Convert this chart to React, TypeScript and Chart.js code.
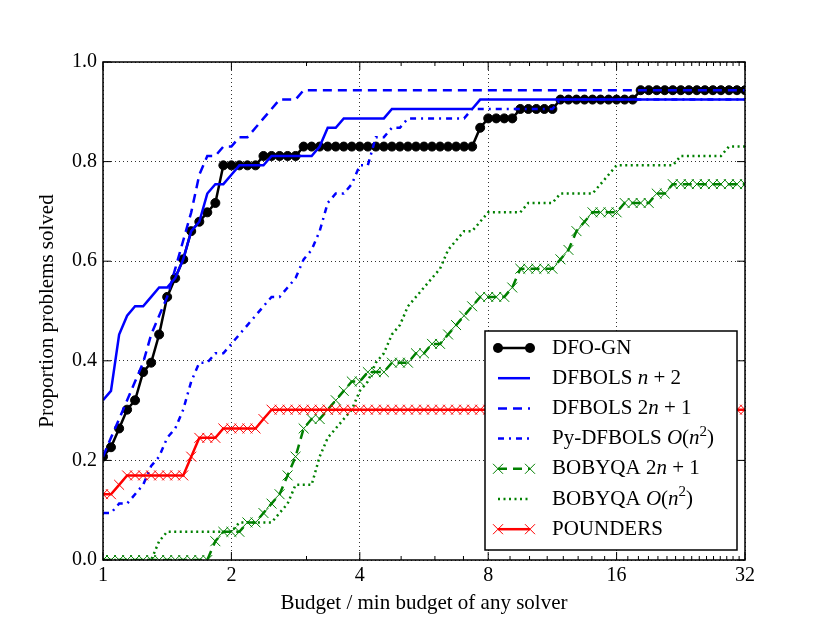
import React, { useEffect, useRef } from 'react';
import { Chart, registerables } from 'chart.js';

Chart.register(...registerables);

const problemCount = 53;

// budget / min budget of any solver
const budgets = [
  1.000, 1.044, 1.091, 1.139, 1.189, 1.242, 1.297, 1.354, 1.414, 1.477,
  1.542, 1.610, 1.682, 1.756, 1.834, 1.915, 2.000, 2.088, 2.181, 2.278,
  2.378, 2.484, 2.594, 2.709, 2.828, 2.954, 3.084, 3.221, 3.364, 3.513,
  3.668, 3.831, 4.000, 4.177, 4.362, 4.555, 4.757, 4.967, 5.187, 5.417,
  5.657, 5.907, 6.169, 6.442, 6.727, 7.025, 7.336, 7.661, 8.000, 8.354,
  8.724, 9.110, 9.514, 9.935, 10.375, 10.834, 11.314, 11.815, 12.338, 12.884,
  13.454, 14.050, 14.672, 15.322, 16.000, 16.709, 17.448, 18.221, 19.027, 19.870,
  20.749, 21.668, 22.627, 23.629, 24.675, 25.768, 26.909, 28.100, 29.344, 30.643,
  32.000,
];

// problems solved (out of 53) at each budget
const dfoGn = [
  11, 12, 14, 16, 17, 20, 21, 24, 28, 30,
  32, 35, 36, 37, 38, 42, 42, 42, 42, 42,
  43, 43, 43, 43, 43, 44, 44, 44, 44, 44,
  44, 44, 44, 44, 44, 44, 44, 44, 44, 44,
  44, 44, 44, 44, 44, 44, 44, 46, 47, 47,
  47, 47, 48, 48, 48, 48, 48, 49, 49, 49,
  49, 49, 49, 49, 49, 49, 49, 50, 50, 50,
  50, 50, 50, 50, 50, 50, 50, 50, 50, 50,
  50,
];

const dfbolsN2 = [
  17, 18, 24, 26, 27, 27, 28, 29, 29, 30,
  32, 35, 36, 39, 40, 40, 41, 42, 42, 42,
  42, 43, 43, 43, 43, 43, 43, 44, 46, 46,
  47, 47, 47, 47, 47, 47, 48, 48, 48, 48,
  48, 48, 48, 48, 48, 48, 48, 49, 49, 49,
  49, 49, 49, 49, 49, 49, 49, 49, 49, 49,
  49, 49, 49, 49, 49, 49, 49, 49, 49, 49,
  49, 49, 49, 49, 49, 49, 49, 49, 49, 49,
  49,
];

const dfbols2n1 = [
  11, 13, 15, 17, 19, 21, 24, 26, 28, 31,
  34, 37, 41, 43, 43, 44, 44, 45, 45, 46,
  47, 48, 49, 49, 49, 50, 50, 50, 50, 50,
  50, 50, 50, 50, 50, 50, 50, 50, 50, 50,
  50, 50, 50, 50, 50, 50, 50, 50, 50, 50,
  50, 50, 50, 50, 50, 50, 50, 50, 50, 50,
  50, 50, 50, 50, 50, 50, 50, 50, 50, 50,
  50, 50, 50, 50, 50, 50, 50, 50, 50, 50,
  50,
];

const pyDfbols = [
  5, 5, 6, 6, 7, 8, 10, 11, 13, 14,
  16, 19, 21, 21, 22, 22, 23, 24, 25, 26,
  27, 28, 28, 29, 30, 32, 33, 35, 38, 39,
  39, 40, 42, 42, 45, 45, 46, 46, 47, 47,
  47, 47, 47, 47, 47, 47, 48, 48, 48, 48,
  48, 48, 48, 48, 48, 48, 48, 49, 49, 49,
  49, 49, 49, 49, 49, 49, 49, 49, 49, 49,
  49, 49, 49, 49, 49, 49, 49, 49, 49, 49,
  49,
];

const bobyqa2n1 = [
  0, 0, 0, 0, 0, 0, 0, 0, 0, 0,
  0, 0, 0, 0, 2, 3, 3, 3, 4, 4,
  5, 6, 7, 9, 11, 14, 15, 15, 16, 17,
  18, 19, 19, 20, 20, 20, 21, 21, 21, 22,
  22, 23, 23, 24, 25, 26, 27, 28, 28, 28,
  28, 29, 31, 31, 31, 31, 31, 32, 33, 35,
  36, 37, 37, 37, 37, 38, 38, 38, 38, 39,
  39, 40, 40, 40, 40, 40, 40, 40, 40, 40,
  40,
];

const bobyqaOn2 = [
  0, 0, 0, 0, 0, 0, 0, 2, 3, 3,
  3, 3, 3, 3, 3, 3, 3, 4, 4, 4,
  4, 4, 5, 6, 8, 8, 8, 11, 13, 14,
  15, 16, 18, 19, 21, 22, 24, 25, 27, 28,
  29, 30, 31, 33, 34, 35, 35, 36, 37, 37,
  37, 37, 37, 38, 38, 38, 38, 39, 39, 39,
  39, 39, 40, 41, 42, 42, 42, 42, 42, 42,
  42, 42, 43, 43, 43, 43, 43, 43, 44, 44,
  44,
];

const pounders = [
  7, 7, 8, 9, 9, 9, 9, 9, 9, 9,
  9, 11, 13, 13, 13, 14, 14, 14, 14, 14,
  15, 16, 16, 16, 16, 16, 16, 16, 16, 16,
  16, 16, 16, 16, 16, 16, 16, 16, 16, 16,
  16, 16, 16, 16, 16, 16, 16, 16, 16, 16,
  16, 16, 16, 16, 16, 16, 16, 16, 16, 16,
  16, 16, 16, 16, 16, 16, 16, 16, 16, 16,
  16, 16, 16, 16, 16, 16, 16, 16, 16, 16,
  16,
];

const xTicks = [1, 2, 4, 8, 16, 32];
const xMinorTicks = [3, 5, 6, 7, 9, 10, 11, 12, 13, 14, 15, 17, 18, 19, 20, 21, 22, 23, 24, 25, 26, 27, 28, 29, 30, 31];
const yTicks = [0, 0.2, 0.4, 0.6, 0.8, 1.0];

const serif = '"Liberation Serif", "Times New Roman", serif';

type Seg = { t: string; it?: boolean; sup?: boolean };

const series = [
  { label: 'DFO-GN', counts: dfoGn, color: '#000000', dash: [] as number[], marker: 'circle' },
  { label: 'DFBOLS n+2', counts: dfbolsN2, color: '#0000ff', dash: [] as number[], marker: '' },
  { label: 'DFBOLS 2n+1', counts: dfbols2n1, color: '#0000ff', dash: [9, 6], marker: '' },
  { label: 'Py-DFBOLS O(n^2)', counts: pyDfbols, color: '#0000ff', dash: [6, 5, 2, 5], marker: '' },
  { label: 'BOBYQA 2n+1', counts: bobyqa2n1, color: '#008000', dash: [9, 6], marker: 'cross' },
  { label: 'BOBYQA O(n^2)', counts: bobyqaOn2, color: '#008000', dash: [2, 3.5], marker: '' },
  { label: 'POUNDERS', counts: pounders, color: '#ff0000', dash: [] as number[], marker: 'cross' },
];

const legendText: Seg[][] = [
  [{ t: 'DFO-GN' }],
  [{ t: 'DFBOLS ' }, { t: 'n', it: true }, { t: ' + 2' }],
  [{ t: 'DFBOLS 2' }, { t: 'n', it: true }, { t: ' + 1' }],
  [{ t: 'Py-DFBOLS ' }, { t: 'O', it: true }, { t: '(' }, { t: 'n', it: true }, { t: '2', sup: true }, { t: ')' }],
  [{ t: 'BOBYQA 2' }, { t: 'n', it: true }, { t: ' + 1' }],
  [{ t: 'BOBYQA ' }, { t: 'O', it: true }, { t: '(' }, { t: 'n', it: true }, { t: '2', sup: true }, { t: ')' }],
  [{ t: 'POUNDERS' }],
];

const drawSegments = (ctx: CanvasRenderingContext2D, segs: Seg[], x: number, y: number) => {
  let cx = x;
  for (const s of segs) {
    ctx.font = `${s.it ? 'italic ' : ''}${s.sup ? 15 : 21}px ${serif}`;
    ctx.fillText(s.t, cx, s.sup ? y - 7 : y);
    cx += ctx.measureText(s.t).width;
  }
};

const frameLegendPlugin = {
  id: 'frameLegend',
  afterDraw(chart: any) {
    const { ctx, chartArea: a } = chart;
    const xs = chart.scales.x;
    const ys = chart.scales.y;
    const seg = (x1: number, y1: number, x2: number, y2: number) => {
      ctx.beginPath();
      ctx.moveTo(x1, y1);
      ctx.lineTo(x2, y2);
      ctx.stroke();
    };
    ctx.save();
    ctx.setLineDash([]);
    ctx.strokeStyle = '#000';
    ctx.lineWidth = 1;
    xTicks.forEach((v) => {
      const px = xs.getPixelForValue(v);
      seg(px, a.bottom, px, a.bottom - 8);
      seg(px, a.top, px, a.top + 8);
    });
    xMinorTicks.forEach((v) => {
      const px = xs.getPixelForValue(v);
      seg(px, a.bottom, px, a.bottom - 4);
      seg(px, a.top, px, a.top + 4);
    });
    yTicks.forEach((v) => {
      const py = ys.getPixelForValue(v);
      seg(a.left, py, a.left + 8, py);
      seg(a.right, py, a.right - 8, py);
    });
    ctx.lineWidth = 1.5;
    ctx.strokeRect(a.left, a.top, a.right - a.left, a.bottom - a.top);

    // legend box, lower right inside the axes
    const bw = 252;
    const bh = 219;
    const bx = a.right - 8 - bw;
    const by = a.bottom - 10 - bh;
    ctx.fillStyle = '#fff';
    ctx.fillRect(bx, by, bw, bh);
    ctx.strokeStyle = '#000';
    ctx.strokeRect(bx, by, bw, bh);
    series.forEach((s, i) => {
      const cy = by + 17 + i * 30.2;
      const x1 = bx + 13;
      const x2 = bx + 45;
      ctx.strokeStyle = s.color;
      ctx.fillStyle = s.color;
      ctx.lineWidth = 2.5;
      ctx.setLineDash(s.dash);
      seg(x1, cy, x2, cy);
      ctx.setLineDash([]);
      ctx.lineWidth = 1;
      [x1, x2].forEach((mx) => {
        if (s.marker === 'circle') {
          ctx.beginPath();
          ctx.arc(mx, cy, 5, 0, Math.PI * 2);
          ctx.fill();
        } else if (s.marker === 'cross') {
          seg(mx - 5, cy - 5, mx + 5, cy + 5);
          seg(mx - 5, cy + 5, mx + 5, cy - 5);
        }
      });
      ctx.fillStyle = '#000';
      ctx.textBaseline = 'middle';
      ctx.textAlign = 'left';
      drawSegments(ctx, legendText[i], bx + 67, cy);
    });
    ctx.restore();
  },
};

const ProfileChart = () => {
  const canvasRef = useRef<HTMLCanvasElement>(null);

  useEffect(() => {
    const ctx = canvasRef.current?.getContext('2d');
    if (!ctx) return;

    const tickFont = { family: serif, size: 20 };
    const titleFont = { family: serif, size: 21 };

    const chart = new Chart(ctx, {
      type: 'line',
      data: {
        datasets: series.map((s, i) => ({
          label: s.label,
          data: budgets.map((b, k) => ({ x: b, y: s.counts[k] / problemCount })),
          borderColor: s.color,
          backgroundColor: s.color,
          borderWidth: 2.5,
          borderDash: s.dash,
          tension: 0,
          pointStyle: s.marker === 'circle' ? 'circle' : 'crossRot',
          pointRadius: s.marker ? (s.marker === 'circle' ? 4.5 : 7) : 0,
          pointBorderWidth: 1,
          pointBorderColor: s.color,
          pointBackgroundColor: s.color,
          order: series.length - i,
        })),
      },
      options: {
        responsive: false,
        animation: false,
        events: [],
        layout: { padding: { top: 62, right: 85, left: 0, bottom: 0 } },
        plugins: { legend: { display: false }, tooltip: { enabled: false } },
        scales: {
          x: {
            type: 'logarithmic',
            min: 1,
            max: 32,
            afterBuildTicks: (s: any) => {
              s.ticks = xTicks.map((v) => ({ value: v }));
            },
            afterFit: (s: any) => {
              s.height = 63;
            },
            ticks: {
              callback: (v: any) => String(v),
              font: tickFont,
              color: '#000',
              padding: 4,
              autoSkip: false,
              maxRotation: 0,
            },
            grid: { color: '#333', lineWidth: 1, drawTicks: false },
            border: { display: false, dash: [1, 3] },
            title: {
              display: true,
              text: 'Budget / min budget of any solver',
              font: titleFont,
              color: '#000',
              padding: { top: 0, bottom: 7 },
            },
          },
          y: {
            min: 0,
            max: 1,
            afterBuildTicks: (s: any) => {
              s.ticks = yTicks.map((v) => ({ value: v }));
            },
            afterFit: (s: any) => {
              s.width = 103;
            },
            ticks: {
              callback: (v: any) => Number(v).toFixed(1),
              font: tickFont,
              color: '#000',
              padding: 6,
            },
            grid: { color: '#333', lineWidth: 1, drawTicks: false },
            border: { display: false, dash: [1, 3] },
            title: {
              display: true,
              text: 'Proportion problems solved',
              font: titleFont,
              color: '#000',
              padding: { top: 35, bottom: 0 },
            },
          },
        },
      },
      plugins: [frameLegendPlugin],
    });

    return () => chart.destroy();
  }, []);

  return <canvas ref={canvasRef} width={830} height={623} />;
};

export default function App() {
  return (
    <div style={{ position: 'fixed', left: 0, top: 0, width: 830, height: 623, background: '#fff' }}>
      <ProfileChart />
    </div>
  );
}
